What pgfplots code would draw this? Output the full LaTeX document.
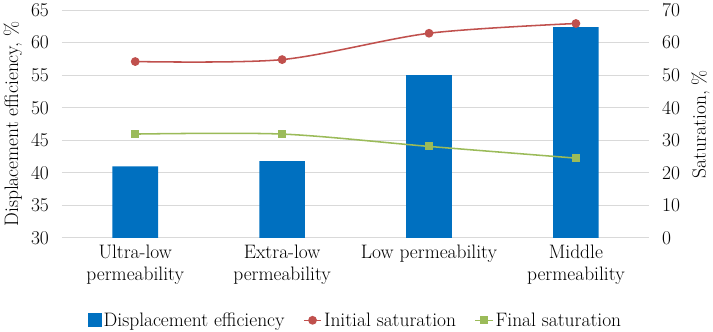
\documentclass[border=0pt]{standalone}
\usepackage{pgfplots}
\pgfplotsset{compat=1.18}
\usepackage{fontspec}
\definecolor{barblue}{HTML}{0070C0}
\definecolor{linered}{HTML}{C0504D}
\definecolor{linegreen}{HTML}{9BBB59}
\definecolor{gridgray}{HTML}{D9D9D9}
\begin{document}
\begin{tikzpicture}
\pgfplotsset{
  every axis/.append style={
    scale only axis, width=573pt, height=222pt,
    xmin=-0.5, xmax=3.5,
    font=\fontsize{19}{22}\selectfont,
    /pgf/number format/assume math mode=true,
    tick style={draw=none},
    axis line style={draw=none},
  }
}
\begin{axis}[
  ymin=30, ymax=65, ytick distance=5,
  ymajorgrids, grid style={gridgray, line width=1pt},
  xtick={0,1,2,3},
  xticklabels={Ultra-low\\permeability, Extra-low\\permeability, Low permeability, Middle\\permeability},
  xticklabel style={align=center},
  xticklabel shift=3pt,
  yticklabel shift=9pt,
  ylabel={Displacement efficiency, \%},
  ylabel shift=2pt,
]
\addplot[ybar, bar width=0.31, fill=barblue, draw=none] coordinates {(0,41) (1,41.8) (2,55) (3,62.4)};
\end{axis}
\begin{axis}[
  axis y line*=right, axis x line=none,
  ymin=0, ymax=70, ytick distance=10,
  yticklabel shift=9pt,
  ylabel={Saturation, \%},
  ylabel shift=4pt,
  legend style={at={(0.5,-0.31)}, anchor=north, draw=none, fill=none,
    legend columns=3, font=\fontsize{19}{22}\selectfont,
    /tikz/every even column/.append style={column sep=16pt}},
]
\addlegendimage{legend image code/.code={\fill[barblue] (0pt,-6pt) rectangle (13pt,7pt);}}
\addlegendentry{Displacement efficiency}
\addplot[smooth, linered, line width=1.5pt, mark=*, mark size=3.5pt] coordinates {(0,54.2) (1,54.8) (2,62.9) (3,65.9)};
\addlegendentry{Initial saturation}
\addplot[smooth, linegreen, line width=1.5pt, mark=square*, mark size=3.2pt] coordinates {(0,31.9) (1,31.9) (2,28.1) (3,24.5)};
\addlegendentry{Final saturation}
\end{axis}
\end{tikzpicture}
\end{document}
